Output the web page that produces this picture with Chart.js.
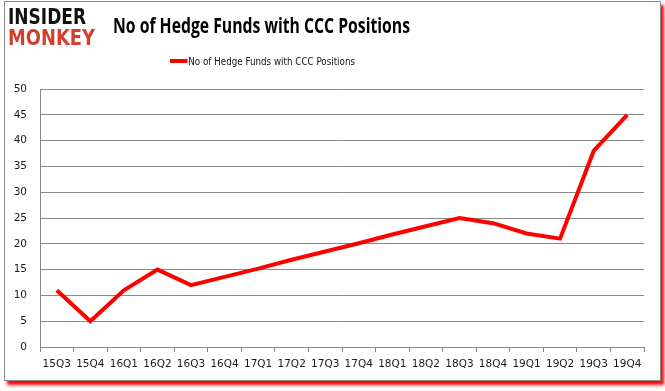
<!DOCTYPE html>
<html>
<head>
<meta charset="utf-8">
<script src="https://cdn.jsdelivr.net/npm/chart.js@4"></script>
<style>
    body { margin: 0; background: #fff; width: 665px; height: 391px; overflow: hidden; position: relative; }
    #frame {
        position: absolute; left: 4px; top: 1px; width: 655px; height: 378px;
        border: 1px solid #8a8a8a; background: #fff;
        box-shadow: 3px 4px 3px #ff0000;
    }
    #chart { position: absolute; left: 0; top: 0; }
    .fit { position: absolute; white-space: nowrap; transform-origin: 0 0; }
    #logo1 { left: 8px; top: 4px; font: 900 22px "DejaVu Sans"; color: #111; }
    #logo2 { left: 8px; top: 25px; font: 900 22px "DejaVu Sans"; color: #d1402c; }
    #title { left: 113px; top: 11px; font: bold 21px "Open Sans"; color: #000; }
    #legend { left: 170px; top: 55px; font: 11px "DejaVu Sans"; color: #111; }
    #legend i { display: inline-block; width: 22px; height: 4px; background: #ff0000; vertical-align: middle; margin-right: 1px; position: relative; top: -1px; }
</style>
</head>
<body>
<div id="frame"></div>
<canvas id="chart" width="665" height="391"></canvas>
<div id="logo1" class="fit" data-w="78">INSIDER</div>
<div id="logo2" class="fit" data-w="87">MONKEY</div>
<div id="title" class="fit" data-w="297">No of Hedge Funds with CCC Positions</div>
<div id="legend" class="fit" data-w="185"><i></i><span id="legendText"></span></div>
<script>
// 분기 라벨
var quarters = ['15Q3', '15Q4', '16Q1', '16Q2', '16Q3', '16Q4', '17Q1', '17Q2', '17Q3',
    '17Q4', '18Q1', '18Q2', '18Q3', '18Q4', '19Q1', '19Q2', '19Q3', '19Q4'];
// 헤지펀드 수
var hedgeFunds = [11, 5, 11, 15, 12, 13.6, 15.2, 16.9, 18.5, 20.1, 21.8, 23.4, 25, 24, 22, 21, 38, 45];
var seriesName = 'No of Hedge Funds with CCC Positions';
// y축 눈금
var yMin = 0, yMax = 50, yStep = 5;

document.getElementById('legendText').textContent = seriesName;

// 텍스트 폭 맞추기
document.querySelectorAll('.fit').forEach(function (el) {
    var target = parseFloat(el.getAttribute('data-w'));
    var w = el.getBoundingClientRect().width;
    if (w > 0) el.style.transform = 'scaleX(' + (target / w) + ')';
});

var gridColor = '#898989';

new Chart(document.getElementById('chart'), {
    type: 'line',
    data: {
        labels: quarters,
        datasets: [{
            label: seriesName,
            data: hedgeFunds,
            borderColor: '#ff0000',
            borderWidth: 4,
            pointRadius: 0,
            tension: 0,
            fill: false
        }]
    },
    options: {
        responsive: false,
        animation: false,
        layout: { padding: { left: 0, right: 21, top: 89, bottom: 14 } },
        plugins: {
            legend: { display: false },
            title: { display: false },
            tooltip: { enabled: false }
        },
        scales: {
            x: {
                offset: true,
                grid: { offset: true, drawOnChartArea: false, drawTicks: true, tickLength: 5, color: gridColor },
                border: { color: gridColor },
                ticks: { color: '#1a1a1a', font: { family: 'DejaVu Sans', size: 10.5 }, padding: 6, maxRotation: 0, autoSkip: false },
                afterFit: function (scale) { scale.height = 30; }
            },
            y: {
                min: yMin,
                max: yMax,
                ticks: { stepSize: yStep, color: '#1a1a1a', font: { family: 'DejaVu Sans', size: 10.5 }, padding: 13 },
                grid: { color: gridColor, drawTicks: false },
                border: { color: gridColor },
                afterFit: function (scale) { scale.width = 40; }
            }
        }
    }
});
</script>
</body>
</html>
